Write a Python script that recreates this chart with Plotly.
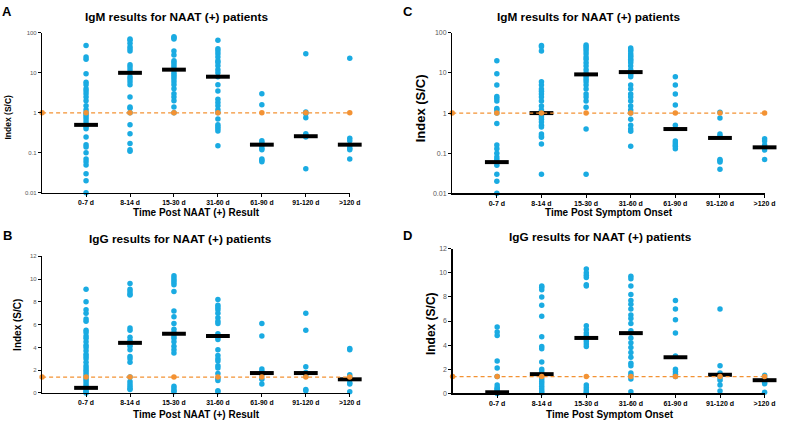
import plotly.graph_objects as go

categories = ["0-7 d", "8-14 d", "15-30 d", "31-60 d", "61-90 d", "91-120 d", ">120 d"]

# Panel A: IgM, time post NAAT (+) result
igm_naat = [
    [48, 25, 22, 9.5, 5.8, 5, 4, 3.5, 3, 2.5, 2, 1.5, 1.2, 1, 0.9, 0.8, 0.7, 0.6, 0.5, 0.45, 0.4,
     0.25, 0.16, 0.14, 0.1, 0.07, 0.06, 0.05, 0.03, 0.02, 0.01],
    [70, 65, 55, 45, 40, 35, 16, 14, 12, 10, 8, 7, 6, 5, 2.5, 1.4, 1.3, 1.0, 0.5, 0.3, 0.17, 0.12, 0.11],
    [80, 75, 70, 35, 28, 20, 18, 16, 14, 12, 10, 9, 8, 7, 6, 5, 4, 3, 2.5, 2, 1.4, 1],
    [65, 40, 35, 30, 25, 20, 18, 15, 12, 10, 8, 5, 3.5, 2.2, 1.8, 1.5, 1.2, 1, 0.7, 0.5, 0.45,
     0.4, 0.35, 0.15],
    [3, 1.6, 0.2, 0.18, 0.15, 0.13, 0.12, 0.07, 0.065, 0.06],
    [30, 1.05, 0.95, 0.75, 0.3, 0.28, 0.25, 0.04],
    [23, 0.23, 0.2, 0.15, 0.13, 0.12, 0.07],
]
igm_naat_median = [0.5, 10, 12, 8, 0.16, 0.26, 0.16]

# Panel B: IgG, time post NAAT (+) result
igg_naat = [
    [9.1, 8, 7.3, 7, 6.5, 6.3, 5.5, 5.3, 5, 4.8, 4.5, 4.2, 4, 3.7, 3.4, 3.2, 3, 2.7, 2.4, 2.2, 2,
     1.8, 1.6, 1.4, 1.2, 1, 0.8, 0.6, 0.4, 0.2, 0.1, 0],
    [9.6, 9.1, 8.9, 8.7, 8.6, 5.7, 5.5, 4.9, 4.6, 4.3, 4.1, 3.8, 3.2, 3.0, 2.7, 1.4, 1.0, 0.8, 0.6, 0.4, 0.3],
    [10.3, 10.1, 9.9, 9.7, 9.5, 8.9, 7.2, 6.7, 6.1, 5.6, 5.3, 5.0, 4.8, 4.5, 4.1, 3.8, 3.5, 0.6, 0.4, 0.2, 0.1],
    [8.2, 7.7, 7.5, 7.3, 7.0, 6.6, 6.3, 6.1, 5.2, 4.9, 4.7, 3.8, 3.3, 3.0, 2.8, 2.4, 2.2, 1.7, 1.3,
     1.1, 0.2, 0.1],
    [6.1, 5.0, 2.1, 1.9, 1.6, 1.2, 0.8],
    [7.0, 5.5, 2.3, 1.8, 1.5, 0.3, 0.2],
    [3.9, 3.8, 1.6, 1.4, 1.2, 0.9, 0.8, 0.1],
]
igg_naat_median = [0.45, 4.4, 5.2, 5.0, 1.75, 1.75, 1.2]

# Panel C: IgM, time post symptom onset
igm_onset = [
    [20, 9.5, 5, 2.6, 2.3, 2, 1.3, 1.2, 1, 0.55, 0.16, 0.13, 0.1, 0.08, 0.07, 0.06, 0.05, 0.03, 0.02, 0.01],
    [48, 45, 35, 6, 5, 4, 3.5, 3, 2.5, 2, 1.5, 1.2, 1.1, 1.0, 0.9, 0.8, 0.7, 0.6, 0.5, 0.45, 0.3,
     0.27, 0.25, 0.17, 0.03],
    [50, 45, 40, 35, 30, 25, 22, 18, 15, 12, 10, 9, 8, 7, 6, 5, 4, 3, 2.5, 2, 1.4, 0.4, 0.03],
    [42, 38, 35, 30, 27, 25, 22, 20, 18, 15, 12, 10, 9, 8, 5, 4, 3, 2.5, 2, 1.5, 1.2, 1, 0.7, 0.5,
     0.4, 0.35, 0.15],
    [8, 5, 3, 1.6, 0.5, 0.2, 0.18, 0.16, 0.15, 0.13],
    [1.05, 0.75, 0.3, 0.27, 0.07, 0.065, 0.06, 0.04],
    [0.23, 0.2, 0.16, 0.14, 0.12, 0.07],
]
igm_onset_median = [0.06, 1.0, 9.2, 10.5, 0.4, 0.24, 0.14]

# Panel D: IgG, time post symptom onset
igg_onset = [
    [5.5, 5.1, 4.8, 2.7, 2.1, 1.4, 0.7, 0.5, 0.4, 0.3, 0.2, 0.1, 0.05, 0],
    [8.9, 8.8, 8.6, 8.0, 7.3, 6.4, 4.7, 3.9, 3.7, 2.6, 2.0, 1.8, 1.5, 1.2, 1.0, 0.8, 0.6, 0.4, 0.2, 0.05],
    [10.3, 10.0, 9.8, 9.6, 9.0, 8.9, 5.6, 5.3, 5.0, 4.8, 4.5, 4.3, 4.1, 3.9, 0.7, 0.5, 0.3, 0.15, 0.05],
    [9.7, 9.5, 8.9, 8.2, 7.7, 7.4, 7.0, 6.5, 6.2, 5.8, 5.2, 5.0, 4.6, 4.2, 3.8, 3.4, 3.0, 2.5, 2.3,
     1.7, 1.5, 1.2, 0.15],
    [7.7, 7.0, 6.1, 5.0, 3.1, 2.0, 1.8, 1.6, 1.4],
    [7.0, 2.3, 1.7, 1.5, 1.3, 1.1, 0.7, 0.2],
    [1.5, 1.3, 1.1, 0.9, 0.8, 0.1],
]
igg_onset_median = [0.1, 1.6, 4.6, 5.0, 3.0, 1.55, 1.1]

igm_cutoff = 1.0
igg_cutoff = 1.4

BLUE = "#1AABE2"
ORANGE = "#F39233"
FONT = "Liberation Sans, Arial, sans-serif"

W, H = 789, 425

fig = go.Figure()

panels = [
    # (values, medians, cutoff, axis suffix, log)
    (igm_naat, igm_naat_median, igm_cutoff, "", True),
    (igg_naat, igg_naat_median, igg_cutoff, "2", False),
    (igm_onset, igm_onset_median, igm_cutoff, "3", True),
    (igg_onset, igg_onset_median, igg_cutoff, "4", False),
]

for vals, meds, cut, sfx, is_log in panels:
    xs, ys = [], []
    for i, group in enumerate(vals):
        xs += [i + 1] * len(group)
        ys += group
    xa, ya = "x" + sfx, "y" + sfx
    fig.add_trace(go.Scatter(x=xs, y=ys, mode="markers", xaxis=xa, yaxis=ya,
                             marker=dict(color=BLUE, size=5.5, line=dict(width=0)),
                             showlegend=False, cliponaxis=False, hoverinfo="skip"))
    fig.add_trace(go.Scatter(x=list(range(1, len(meds) + 1)), y=meds, mode="markers",
                             xaxis=xa, yaxis=ya,
                             marker=dict(symbol="line-ew", size=17, color="black",
                                         line=dict(color="black", width=4)),
                             showlegend=False, cliponaxis=False, hoverinfo="skip"))
    fig.add_trace(go.Scatter(x=list(range(0, len(meds) + 1)), y=[cut] * (len(meds) + 1),
                             mode="lines+markers", xaxis=xa, yaxis=ya,
                             line=dict(color=ORANGE, width=1.3, dash="4px,3px"),
                             marker=dict(color=ORANGE, size=5.5),
                             showlegend=False, cliponaxis=False, hoverinfo="skip"))


def px_x(a, b):
    return [a / W, b / W]


def px_y(top, bottom):
    return [1 - bottom / H, 1 - top / H]


def xaxis_cfg(dom, anchor, fs):
    return dict(domain=dom, anchor=anchor, range=[0, 7], tickmode="array",
                tickvals=list(range(1, 8)), ticktext=categories, showgrid=False,
                zeroline=False, showline=True, linecolor="black", linewidth=1.2,
                ticks="outside", ticklen=3, tickcolor="black", tickwidth=1,
                tickfont=dict(family=FONT, size=fs, color="black", weight="bold"))


def yaxis_cfg(dom, anchor, is_log, fs):
    d = dict(domain=dom, anchor=anchor, showgrid=False, zeroline=False, showline=True,
             linecolor="black", linewidth=1.2, ticks="outside", ticklen=3,
             tickcolor="black", tickwidth=1,
             tickfont=dict(family=FONT, size=fs, color="#595959"))
    if is_log:
        d.update(type="log", range=[-2, 2], tickmode="array",
                 tickvals=[0.01, 0.1, 1, 10, 100], ticktext=["0.01", "0.1", "1", "10", "100"])
    else:
        d.update(range=[0, 12], tickmode="array", tickvals=[0, 2, 4, 6, 8, 10, 12])
    return d


fig.update_layout(
    width=W, height=H, margin=dict(l=0, r=0, t=0, b=0),
    paper_bgcolor="white", plot_bgcolor="white",
    font=dict(family=FONT),
    hovermode=False,
    xaxis=xaxis_cfg(px_x(42.7, 354.7), "y", 6.8),
    yaxis=yaxis_cfg(px_y(29.3, 192), "x", True, 6),
    xaxis2=xaxis_cfg(px_x(42.7, 354.7), "y2", 6.8),
    yaxis2=yaxis_cfg(px_y(256.5, 395.5), "x2", False, 6),
    xaxis3=xaxis_cfg(px_x(458.6, 775.4), "y3", 7),
    yaxis3=yaxis_cfg(px_y(29.3, 192.5), "x3", True, 7),
    xaxis4=xaxis_cfg(px_x(459, 775.4), "y4", 7),
    yaxis4=yaxis_cfg(px_y(248.7, 396), "x4", False, 7),
)

ann = []


def add_text(text, x, y, size, angle=0, color="black"):
    ann.append(dict(text=text, x=x / W, y=1 - y / H, xref="paper", yref="paper",
                    showarrow=False, xanchor="center", yanchor="middle", textangle=angle,
                    font=dict(family=FONT, size=size, color=color, weight="bold")))


# panel letters
add_text("A", 7.5, 7.5, 13)
add_text("C", 413.5, 7.5, 13)
add_text("B", 7.5, 235, 13)
add_text("D", 413.5, 235, 13)

# titles
add_text("IgM results for NAAT (+) patients", 178.5, 13.5, 11.8)
add_text("IgM results for NAAT (+) patients", 597, 13.5, 11.8)
add_text("IgG results for NAAT (+) patients", 183.5, 238.5, 11.8)
add_text("IgG results for NAAT (+) patients", 609, 237, 11.8)

# x axis titles
add_text("Time Post NAAT (+) Result", 199.5, 212, 10)
add_text("Time Post NAAT (+) Result", 199, 417.5, 10)
add_text("Time Post Symptom Onset", 617.5, 212, 10)
add_text("Time Post Symptom Onset", 618.5, 417.5, 10)

# y axis titles
add_text("Index (S/C)", 8.5, 115, 8.5, -90)
add_text("Index (S/C)", 17.5, 326, 10, -90)
add_text("Index (S/C)", 426, 106, 13, -90)
add_text("Index (S/C)", 436.5, 325, 12, -90)

fig.update_layout(annotations=ann)

fig.write_html("out.html", config={"displayModeBar": False, "staticPlot": True},
               post_script="document.body.style.margin='0';document.body.style.overflow='hidden';")
